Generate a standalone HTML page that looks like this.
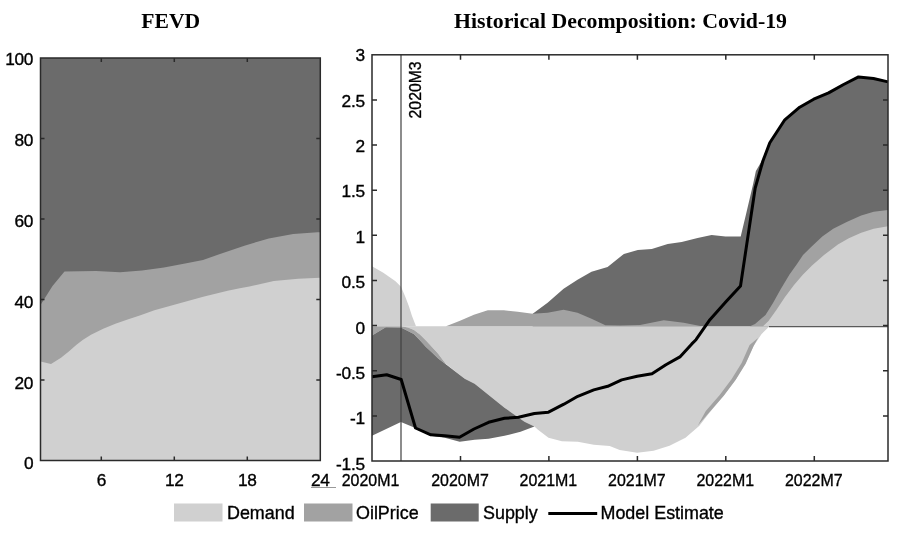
<!DOCTYPE html>
<html lang="en"><head><meta charset="utf-8"><title>FEVD and Historical Decomposition: Covid-19</title>
<style>html,body{margin:0;padding:0;background:#fff}svg{display:block}</style></head>
<body>
<svg width="903" height="533" viewBox="0 0 903 533">
<rect width="903" height="533" fill="#fff"/>
<rect x="40.5" y="58.0" width="279.8" height="402.5" fill="#6b6b6b"/>
<polygon fill="#a2a2a2" points="40.5,305.0 52.5,286.0 64.5,271.5 96.0,271.0 120.0,272.3 142.0,270.5 164.0,267.6 186.4,263.2 203.0,259.9 220.0,254.0 244.4,245.7 268.8,238.4 293.2,234.1 317.6,232.3 320.3,232.2 320.3,460.5 40.5,460.5"/>
<polygon fill="#d0d0d0" points="40.5,361.5 51.0,364.0 61.0,357.8 68.8,351.6 76.5,344.7 82.7,340.0 91.0,334.8 103.2,328.7 115.4,323.8 127.6,319.5 139.8,315.5 154.4,310.2 178.8,303.5 203.2,296.8 227.6,290.7 239.8,288.3 249.4,286.6 273.8,281.1 298.2,278.7 320.3,277.8 320.3,460.5 40.5,460.5"/>
<g stroke="#2a2a2a" stroke-width="1.5" fill="none">
<rect x="40.5" y="58.0" width="279.8" height="402.5"/>
<path d="M101.3 460.5v-4M101.3 58.0v4"/>
<path d="M174.3 460.5v-4M174.3 58.0v4"/>
<path d="M247.3 460.5v-4M247.3 58.0v4"/>
<path d="M40.5 380.0h4M320.3 380.0h-4"/>
<path d="M40.5 299.5h4M320.3 299.5h-4"/>
<path d="M40.5 219.0h4M320.3 219.0h-4"/>
<path d="M40.5 138.5h4M320.3 138.5h-4"/>
</g>
<polygon fill="#d0d0d0" points="401.0,326.3 401.0,326.3 408.0,327.5 414.0,330.0 420.0,334.5 426.0,340.5 432.0,347.0 438.0,353.5 445.5,363.5 464.7,378.8 474.6,383.8 484.6,391.8 504.5,407.7 524.5,421.7 534.4,426.5 538.0,429.8 548.5,437.7 561.9,441.3 577.8,441.7 593.8,444.7 609.7,446.1 619.7,450.1 637.2,452.7 653.6,450.7 669.5,445.7 685.5,437.7 699.4,425.8 709.4,412.8 723.7,395.7 735.7,379.8 745.6,363.8 753.6,345.9 761.6,334.0 769.6,326.3"/>
<polygon fill="#a2a2a2" points="372.0,326.3 401.0,326.3 401.0,326.3 408.0,327.5 414.0,330.0 420.0,334.5 426.0,340.5 432.0,347.0 438.0,353.5 445.5,363.5 445.5,364.0 438.2,358.5 432.0,352.4 426.0,347.0 419.9,340.2 413.8,334.1 401.0,327.4 385.7,327.2 372.0,335.4"/>
<polygon fill="#6b6b6b" points="372.0,335.4 385.7,327.2 401.0,327.4 413.8,334.1 419.9,340.2 426.0,347.0 432.0,352.4 438.2,358.5 445.5,364.0 464.7,378.8 474.6,383.8 484.6,391.8 504.5,407.7 524.5,421.7 534.4,426.5 534.4,426.5 520.5,431.8 504.5,435.8 488.6,438.8 474.6,439.8 459.7,441.8 444.7,437.8 430.8,435.8 414.8,427.8 400.9,421.9 372.0,435.8"/>
<polygon fill="#a2a2a2" points="697.8,425.6 709.8,411.7 723.7,395.7 735.7,379.8 745.6,363.8 753.6,345.9 758.0,338.0 758.0,338.0 749.6,345.1 741.6,363.0 731.7,379.0 719.7,394.9 705.8,410.9 697.8,425.6"/>
<polygon fill="#d0d0d0" points="372.0,326.3 372.0,266.3 383.3,272.7 389.4,277.0 395.5,281.2 401.0,286.7 405.2,296.5 408.9,306.2 412.0,316.0 416.0,326.3"/>
<polygon fill="#6b6b6b" points="532.7,313.7 547.6,302.7 563.6,288.8 577.5,279.8 591.5,271.8 607.6,266.9 623.9,253.9 637.8,249.9 651.8,248.9 667.7,243.9 681.7,241.9 697.6,238.0 711.6,235.0 725.5,236.6 740.7,236.6 745.9,214.8 752.9,184.9 755.9,171.0 762.9,159.0 769.8,142.7 784.8,119.8 799.7,107.2 813.7,99.2 828.6,92.9 843.6,84.5 858.5,76.9 873.5,78.5 888.0,81.9 888.0,326.3 532.7,326.3"/>
<polygon fill="#a2a2a2" points="446.0,326.3 460.0,320.7 473.9,314.7 487.8,310.3 503.8,310.3 517.7,311.7 532.7,313.7 547.6,312.7 563.6,309.7 577.5,312.7 591.5,318.7 605.4,325.2 620.0,325.5 640.0,325.0 663.8,320.3 683.7,322.7 701.6,326.3"/>
<polygon fill="#a2a2a2" points="750.0,326.3 755.0,324.0 765.5,315.0 773.0,303.0 780.5,289.5 789.5,274.5 797.0,264.0 803.0,255.0 811.4,246.7 822.3,236.6 833.2,228.8 847.2,221.8 861.2,215.6 873.7,211.7 888.0,210.0 888.0,326.3"/>
<polygon fill="#d0d0d0" points="763.0,326.3 768.5,321.0 776.0,310.5 785.0,297.0 794.0,285.0 803.0,274.5 812.0,265.5 824.0,255.0 837.9,244.4 848.8,238.2 861.2,232.7 873.7,228.8 888.0,226.3 888.0,326.3"/>
<path d="M769 326.7H888" stroke="#5a5a5a" stroke-width="1.3"/>
<path d="M401 54.8V461.0" stroke="#404040" stroke-width="1.2"/>
<polyline fill="none" stroke="#000" stroke-width="3" stroke-linejoin="round" points="372.0,376.8 386.7,374.8 401.2,379.5 415.5,428.0 430.8,434.8 444.7,435.8 459.5,437.3 474.0,429.0 488.6,422.3 504.5,418.3 518.5,417.3 534.4,413.5 548.5,412.2 563.9,404.2 577.8,396.3 593.8,389.9 607.7,386.3 621.7,379.9 637.2,376.3 652.0,373.8 665.9,364.8 679.9,356.9 691.8,343.9 696.0,339.7 709.9,319.7 725.9,301.8 740.5,286.0 755.2,188.0 762.9,161.0 769.8,142.7 784.8,119.8 799.7,107.2 813.7,99.2 828.6,92.9 843.6,84.5 858.5,76.9 873.5,78.5 888.0,81.9"/>
<g stroke="#2a2a2a" stroke-width="1.5" fill="none">
<rect x="372.0" y="54.8" width="516.0" height="406.2"/>
<path d="M460.5 461.0v-5M460.5 54.8v5"/>
<path d="M548.9 461.0v-5M548.9 54.8v5"/>
<path d="M637.4 461.0v-5M637.4 54.8v5"/>
<path d="M725.8 461.0v-5M725.8 54.8v5"/>
<path d="M814.3 461.0v-5M814.3 54.8v5"/>
<path d="M372.0 99.9h5M888.0 99.9h-5"/>
<path d="M372.0 145.1h5M888.0 145.1h-5"/>
<path d="M372.0 190.2h5M888.0 190.2h-5"/>
<path d="M372.0 235.3h5M888.0 235.3h-5"/>
<path d="M372.0 280.5h5M888.0 280.5h-5"/>
<path d="M372.0 325.6h5M888.0 325.6h-5"/>
<path d="M372.0 370.7h5M888.0 370.7h-5"/>
<path d="M372.0 415.9h5M888.0 415.9h-5"/>
</g>
<g font-family="'Liberation Sans', Arial, sans-serif" font-size="17.3" fill="#000" stroke="#000" stroke-width="0.35">
<text x="33.2" y="469.4" text-anchor="end" letter-spacing="-0.3">0</text>
<text x="33.2" y="388.5" text-anchor="end" letter-spacing="-0.3">20</text>
<text x="33.2" y="307.6" text-anchor="end" letter-spacing="-0.3">40</text>
<text x="33.2" y="226.7" text-anchor="end" letter-spacing="-0.3">60</text>
<text x="33.2" y="145.8" text-anchor="end" letter-spacing="-0.3">80</text>
<text x="33.2" y="64.9" text-anchor="end" letter-spacing="-0.3">100</text>
<text x="101.3" y="486.3" text-anchor="middle" letter-spacing="-0.3">6</text>
<text x="174.3" y="486.3" text-anchor="middle" letter-spacing="-0.3">12</text>
<text x="247.3" y="486.3" text-anchor="middle" letter-spacing="-0.3">18</text>
<text x="320.3" y="486.3" text-anchor="middle" letter-spacing="-0.3">24</text>
<text x="365" y="61.4" text-anchor="end" letter-spacing="-0.2">3</text>
<text x="365" y="106.8" text-anchor="end" letter-spacing="-0.2">2.5</text>
<text x="365" y="152.1" text-anchor="end" letter-spacing="-0.2">2</text>
<text x="365" y="197.4" text-anchor="end" letter-spacing="-0.2">1.5</text>
<text x="365" y="242.8" text-anchor="end" letter-spacing="-0.2">1</text>
<text x="365" y="288.1" text-anchor="end" letter-spacing="-0.2">0.5</text>
<text x="365" y="333.5" text-anchor="end" letter-spacing="-0.2">0</text>
<text x="365" y="378.8" text-anchor="end" letter-spacing="-0.2">-0.5</text>
<text x="365" y="424.2" text-anchor="end" letter-spacing="-0.2">-1</text>
<text x="365" y="469.6" text-anchor="end" letter-spacing="-0.2">-1.5</text>
<text x="341.7" y="486.3" textLength="57.6" lengthAdjust="spacingAndGlyphs">2020M1</text>
<text x="431.2" y="486.3" textLength="57.6" lengthAdjust="spacingAndGlyphs">2020M7</text>
<text x="519.6" y="486.3" textLength="57.6" lengthAdjust="spacingAndGlyphs">2021M1</text>
<text x="608.1" y="486.3" textLength="57.6" lengthAdjust="spacingAndGlyphs">2021M7</text>
<text x="696.5" y="486.3" textLength="57.6" lengthAdjust="spacingAndGlyphs">2022M1</text>
<text x="785.0" y="486.3" textLength="57.6" lengthAdjust="spacingAndGlyphs">2022M7</text>
<text transform="translate(420.9,118.4) rotate(-90)" font-size="16.8" textLength="57" lengthAdjust="spacingAndGlyphs">2020M3</text>
</g>
<path d="M311 487.5H336" stroke="#999" stroke-width="1"/>
<rect x="174" y="503.5" width="48.5" height="18" fill="#d0d0d0"/>
<rect x="304" y="503.5" width="48.5" height="18" fill="#a2a2a2"/>
<rect x="430.7" y="503.5" width="48" height="18" fill="#6b6b6b"/>
<path d="M548.3 513.4H597.2" stroke="#000" stroke-width="3"/>
<g font-family="'Liberation Sans', Arial, sans-serif" font-size="17.9" fill="#000" stroke="#000" stroke-width="0.35">
<text x="227" y="519">Demand</text>
<text x="356" y="519">OilPrice</text>
<text x="483" y="519">Supply</text>
<text x="600.5" y="519">Model Estimate</text>
</g>
<g font-family="'Liberation Serif', 'Times New Roman', serif" font-weight="bold" font-size="21.6" fill="#000" text-anchor="middle">
<text x="170.7" y="27.5">FEVD</text>
<text x="620.5" y="27.5" textLength="333" lengthAdjust="spacingAndGlyphs">Historical Decomposition: Covid-19</text>
</g>
</svg>
</body></html>
